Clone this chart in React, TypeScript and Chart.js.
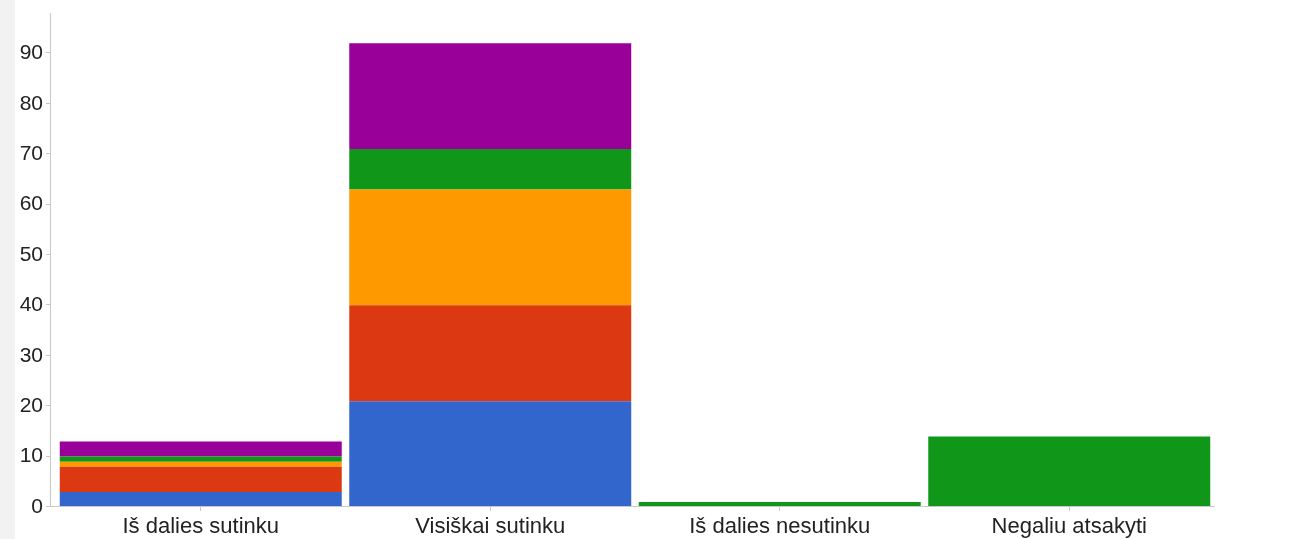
import React, { useEffect, useRef } from "react";
import { Chart, registerables } from "chart.js";

Chart.register(...registerables);

const categories = ["Iš dalies sutinku", "Visiškai sutinku", "Iš dalies nesutinku", "Negaliu atsakyti"];
const blueValues = [3, 21, 0, 0];
const redValues = [5, 19, 0, 0];
const orangeValues = [1, 23, 0, 0];
const greenValues = [1, 8, 1, 14];
const purpleValues = [3, 21, 0, 0];
const yTickValues = [0, 10, 20, 30, 40, 50, 60, 70, 80, 90];

const FONT = "'Liberation Sans', Arial, sans-serif";

const axisPlugin = {
  id: "gAxis",
  afterDraw(chart: any) {
    const { ctx, chartArea, scales } = chart;
    const y = scales.y;
    const axisX = chartArea.left - 6;
    ctx.save();
    ctx.strokeStyle = "#c8c8c8";
    ctx.lineWidth = 1;
    ctx.beginPath();
    ctx.moveTo(axisX + 0.5, chartArea.top);
    ctx.lineTo(axisX + 0.5, chartArea.bottom);
    ctx.stroke();
    ctx.beginPath();
    ctx.moveTo(axisX, Math.round(chartArea.bottom) - 0.5);
    ctx.lineTo(chartArea.right + 1, Math.round(chartArea.bottom) - 0.5);
    ctx.stroke();
    yTickValues.forEach((v) => {
      const py = Math.round(y.getPixelForValue(v)) - 0.5;
      ctx.beginPath();
      ctx.moveTo(axisX - 4, py);
      ctx.lineTo(axisX, py);
      ctx.stroke();
    });
    ctx.restore();
  },
};

export default function App() {
  const ref = useRef<HTMLCanvasElement | null>(null);
  useEffect(() => {
    document.body.style.margin = "0";
    const mk = (label: string, data: number[], color: string) => ({
      label,
      data,
      backgroundColor: color,
      borderWidth: 0,
      barPercentage: 0.974,
      categoryPercentage: 1,
    });
    const chart = new Chart(ref.current as HTMLCanvasElement, {
      type: "bar",
      data: {
        labels: categories,
        datasets: [
          mk("A", blueValues, "#3366cc"),
          mk("B", redValues, "#dc3912"),
          mk("C", orangeValues, "#ff9900"),
          mk("D", greenValues, "#109618"),
          mk("E", purpleValues, "#990099"),
        ],
      },
      options: {
        animation: false,
        responsive: false,
        maintainAspectRatio: false,
        layout: { padding: { top: 13, right: 96, bottom: 0, left: 0 } },
        plugins: { legend: { display: false }, tooltip: { enabled: false } },
        scales: {
          x: {
            stacked: true,
            border: { display: false },
            grid: {
              display: true,
              drawOnChartArea: false,
              offset: false,
              drawTicks: true,
              tickLength: 4,
              color: "#c8c8c8",
            },
            ticks: { color: "#222", font: { family: FONT, size: 22 }, padding: 3, maxRotation: 0 },
            afterFit: (s: any) => {
              s.height = 32;
              s.paddingLeft = 0;
              s.paddingRight = 0;
            },
          },
          y: {
            stacked: true,
            min: 0,
            max: 98,
            border: { display: false },
            grid: { display: false, drawTicks: false },
            ticks: { stepSize: 10, color: "#222", font: { family: FONT, size: 21 }, padding: 13 },
            afterBuildTicks: (s: any) => {
              s.ticks = yTickValues.map((v) => ({ value: v }));
            },
            afterFit: (s: any) => {
              s.width = 56;
              s.paddingTop = 0;
              s.paddingBottom = 0;
            },
          },
        },
      },
      plugins: [axisPlugin],
    } as any);
    return () => chart.destroy();
  }, []);
  return (
    <div style={{ position: "relative", width: 1310, height: 539, background: "#fff" }}>
      <div style={{ position: "absolute", left: 0, top: 0, width: 15, height: 539, background: "#f2f2f2" }} />
      <canvas ref={ref} width={1310} height={539} style={{ position: "absolute", left: 0, top: 0 }} />
    </div>
  );
}
